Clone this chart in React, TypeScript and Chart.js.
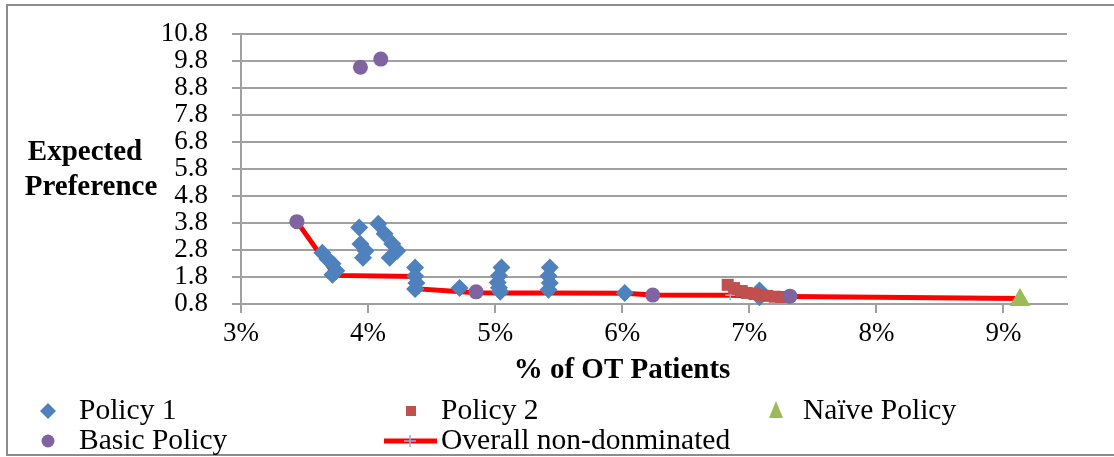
import React, { useEffect, useRef } from "react";
import { Chart, registerables } from "chart.js";

Chart.register(...registerables);

// ---- Data (x in % of OT patients, y = expected preference) ----
const xTickValues = [3, 4, 5, 6, 7, 8, 9];
const yTickValues = [0.8, 1.8, 2.8, 3.8, 4.8, 5.8, 6.8, 7.8, 8.8, 9.8, 10.8];

const policy1X = [3.64, 3.68, 3.72, 3.75, 3.72, 3.93, 3.94, 3.98, 3.96, 4.08, 4.13, 4.19, 4.23, 4.17, 4.37, 4.37, 4.38, 4.37, 4.72, 5.05, 5.03, 5.02, 5.03, 5.04, 5.43, 5.42, 5.43, 5.42, 6.02, 7.08, 7.08];
const policy1Y = [2.70, 2.47, 2.29, 2.03, 1.88, 3.63, 3.02, 2.77, 2.51, 3.77, 3.40, 3.03, 2.77, 2.51, 2.15, 1.84, 1.58, 1.36, 1.39, 2.15, 1.85, 1.60, 1.40, 1.25, 2.15, 1.84, 1.58, 1.33, 1.21, 1.30, 1.05];

const policy2X = [6.83, 6.88, 6.94, 6.98, 7.04, 7.09, 7.14, 7.20, 7.25];
const policy2Y = [1.51, 1.39, 1.28, 1.21, 1.17, 1.13, 1.10, 1.07, 1.06];

const naiveX = [9.13];
const naiveY = [0.95];

const basicX = [3.44, 3.94, 4.10, 4.85, 6.24, 7.32];
const basicY = [3.85, 9.57, 9.87, 1.25, 1.13, 1.09];

const frontX = [3.44, 3.74, 4.37, 4.40, 4.85, 5.04, 5.42, 6.02, 6.24, 6.85, 7.08, 7.32, 9.13];
const frontY = [3.85, 1.86, 1.82, 1.36, 1.22, 1.21, 1.21, 1.20, 1.13, 1.12, 1.10, 1.08, 1.00];

const BLUE = "#4F81BD";
const BROWN = "#C0504D";
const GREEN = "#9BBB59";
const PURPLE = "#8064A2";
const RED = "#FF0000";
const CROSS = "#95B3D7";
const GRID = "#a0a0a0";
const FONT = "'Liberation Serif', 'Times New Roman', serif";

const zip = (xs: number[], ys: number[]) => xs.map((x, i) => ({ x, y: ys[i] }));

const decorPlugin = {
  id: "decor",
  afterDraw(chart: any) {
    const ctx = chart.ctx as CanvasRenderingContext2D;
    ctx.save();
    // outer border
    ctx.strokeStyle = "#8c8c8c";
    ctx.lineWidth = 2;
    ctx.strokeRect(7, 5, 1120, 450);

    ctx.fillStyle = "#000";
    ctx.font = `bold 29px ${FONT}`;
    ctx.textAlign = "center";
    ctx.textBaseline = "middle";
    // y axis title (horizontal)
    ctx.fillText("Expected", 85, 153);
    ctx.fillText("Preference", 91, 188);
    // x axis title
    ctx.fillText("% of OT Patients", 622, 371);

    // legend
    ctx.font = `29.5px ${FONT}`;
    ctx.textAlign = "left";
    const r1 = 411;
    const r2 = 441;
    // diamond
    ctx.fillStyle = BLUE;
    ctx.beginPath();
    ctx.moveTo(48, r1 - 8);
    ctx.lineTo(56, r1);
    ctx.lineTo(48, r1 + 8);
    ctx.lineTo(40, r1);
    ctx.closePath();
    ctx.fill();
    ctx.fillStyle = "#000";
    ctx.fillText("Policy 1", 79, r1);
    // square
    ctx.fillStyle = BROWN;
    ctx.fillRect(406, r1 - 5, 10, 10);
    ctx.fillStyle = "#000";
    ctx.fillText("Policy 2", 441, r1);
    // triangle
    ctx.fillStyle = GREEN;
    ctx.beginPath();
    ctx.moveTo(776, r1 - 10);
    ctx.lineTo(783, r1 + 7);
    ctx.lineTo(769, r1 + 7);
    ctx.closePath();
    ctx.fill();
    ctx.fillStyle = "#000";
    ctx.fillText("Naïve Policy", 803, r1);
    // circle
    ctx.fillStyle = PURPLE;
    ctx.beginPath();
    ctx.arc(48, r2, 6.5, 0, Math.PI * 2);
    ctx.fill();
    ctx.fillStyle = "#000";
    ctx.fillText("Basic Policy", 79, r2);
    // line + cross
    ctx.strokeStyle = RED;
    ctx.lineWidth = 5;
    ctx.beginPath();
    ctx.moveTo(384, r2);
    ctx.lineTo(437, r2);
    ctx.stroke();
    ctx.strokeStyle = CROSS;
    ctx.lineWidth = 1.5;
    ctx.beginPath();
    ctx.moveTo(410, r2 - 6);
    ctx.lineTo(410, r2 + 6);
    ctx.moveTo(404, r2);
    ctx.lineTo(416, r2);
    ctx.stroke();
    ctx.fillStyle = "#000";
    ctx.fillText("Overall non-donminated", 441, r2);
    ctx.restore();
  },
};

export default function App() {
  const ref = useRef<HTMLCanvasElement>(null);

  useEffect(() => {
    const chart = new Chart(ref.current as HTMLCanvasElement, {
      type: "scatter",
      data: {
        datasets: [
          {
            label: "Basic Policy",
            data: zip(basicX, basicY),
            pointStyle: "circle",
            pointRadius: 7.5,
            pointHoverRadius: 7.5,
            backgroundColor: PURPLE,
            borderColor: PURPLE,
            borderWidth: 0,
            order: 1,
            clip: false,
          },
          {
            label: "Naïve Policy",
            data: zip(naiveX, naiveY),
            pointStyle: "triangle",
            pointRadius: 12,
            pointHoverRadius: 12,
            backgroundColor: GREEN,
            borderColor: GREEN,
            borderWidth: 0,
            order: 2,
            clip: false,
          },
          {
            label: "Policy 2",
            data: zip(policy2X, policy2Y),
            pointStyle: "rect",
            pointRadius: 8.5,
            pointHoverRadius: 8.5,
            backgroundColor: BROWN,
            borderColor: BROWN,
            borderWidth: 0,
            order: 3,
            clip: false,
          },
          {
            label: "Policy 1",
            data: zip(policy1X, policy1Y),
            pointStyle: "rectRot",
            pointRadius: 9,
            pointHoverRadius: 9,
            backgroundColor: BLUE,
            borderColor: BLUE,
            borderWidth: 0,
            order: 4,
            clip: false,
          },
          {
            label: "Overall non-donminated",
            data: zip(frontX, frontY),
            showLine: true,
            borderColor: RED,
            borderWidth: 5,
            pointStyle: "cross",
            pointRadius: 5,
            pointHoverRadius: 5,
            pointBorderColor: CROSS,
            pointBackgroundColor: CROSS,
            pointBorderWidth: 1.5,
            order: 5,
            clip: false,
          } as any,
        ],
      },
      options: {
        responsive: false,
        animation: false,
        devicePixelRatio: 1,
        layout: { padding: { left: 0, right: 47, top: 34, bottom: 68 } },
        plugins: {
          legend: { display: false },
          tooltip: { enabled: false },
          title: { display: false },
        },
        scales: {
          x: {
            type: "linear",
            min: 3,
            max: 9.5,
            afterBuildTicks: (scale: any) => {
              scale.ticks = xTickValues.map((v) => ({ value: v }));
            },
            afterFit: (scale: any) => {
              scale.height = 85;
              scale.paddingLeft = 0;
              scale.paddingRight = 0;
            },
            grid: {
              drawOnChartArea: false,
              drawTicks: true,
              tickLength: 9,
              color: GRID,
              lineWidth: 2,
            },
            border: { display: true, color: GRID, width: 2 },
            ticks: {
              autoSkip: false,
              maxRotation: 0,
              padding: 5,
              color: "#000",
              font: { family: FONT, size: 27 },
              callback: (v: any) => `${v}%`,
            },
            title: { display: false },
          },
          y: {
            type: "linear",
            min: 0.8,
            max: 10.8,
            afterBuildTicks: (scale: any) => {
              scale.ticks = yTickValues.map((v) => ({ value: v }));
            },
            afterFit: (scale: any) => {
              scale.width = 241;
              scale.paddingTop = 0;
              scale.paddingBottom = 0;
            },
            grid: {
              drawOnChartArea: true,
              drawTicks: true,
              tickLength: 9,
              color: GRID,
              lineWidth: 2,
            },
            border: { display: true, color: GRID, width: 2 },
            ticks: {
              autoSkip: false,
              padding: 24,
              color: "#000",
              font: { family: FONT, size: 27 },
              callback: (v: any) => Number(v).toFixed(1),
            },
            title: { display: false },
          },
        },
      } as any,
      plugins: [decorPlugin],
    });
    return () => chart.destroy();
  }, []);

  return (
    <div style={{ position: "absolute", left: 0, top: 0, width: 1114, height: 457, background: "#fff" }}>
      <canvas ref={ref} width={1114} height={457} style={{ display: "block", width: 1114, height: 457 }} />
    </div>
  );
}
